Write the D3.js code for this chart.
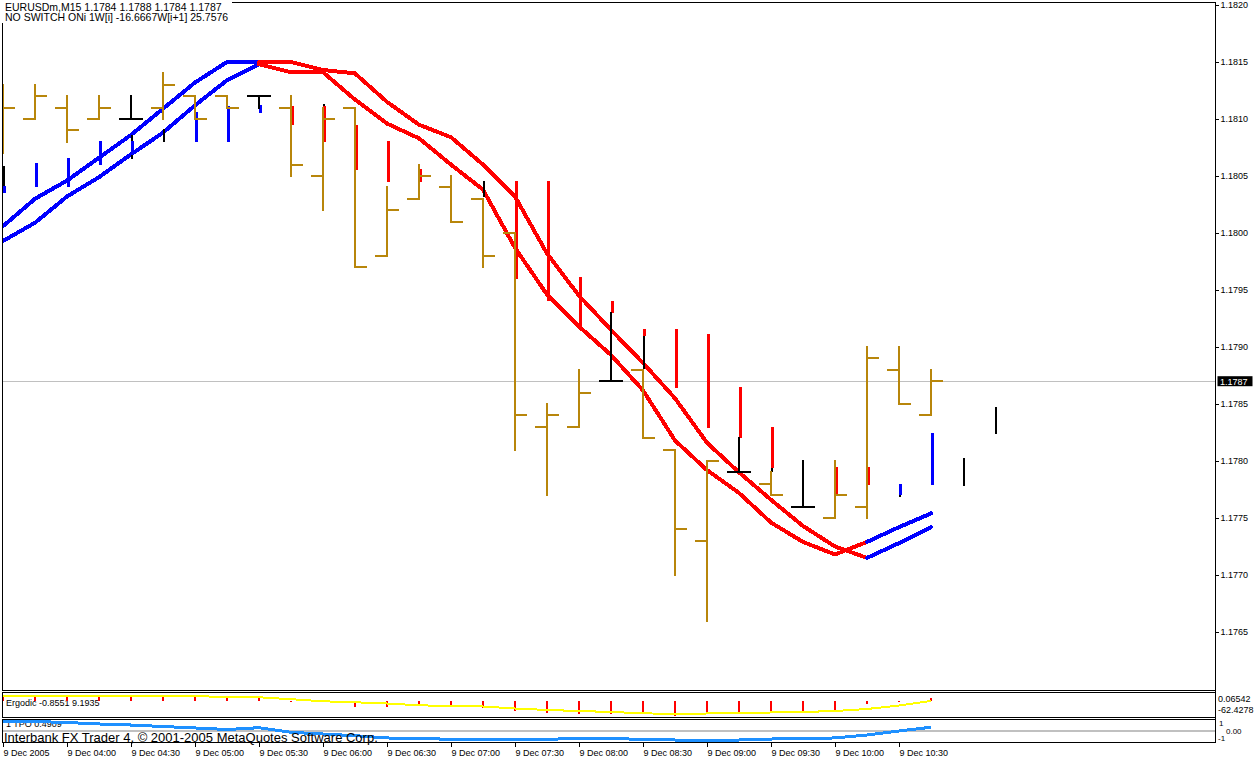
<!DOCTYPE html>
<html><head><meta charset="utf-8">
<script src="https://cdn.jsdelivr.net/npm/d3@7/dist/d3.min.js"></script>
<style>
body{margin:0;background:#fff;}
svg{display:block;}
text{font-family:"Liberation Sans",Arial,sans-serif;}
</style>
</head><body>
<svg id="c" width="1255" height="760"></svg>
<script>
// ---------------- DATA ----------------
const symbolTitle = "EURUSDm,M15  1.1784 1.1788 1.1784 1.1787";
const switchTitle = "NO SWITCH ONi 1W[i] -16.6667W[i+1] 25.7576";
const ergodicTitle = "Ergodic -0.8551 9.1935";
const tpoTitle = "1 TPO 0.4909";
const watermark = "Interbank FX Trader 4, \u00A9 2001-2005 MetaQuotes Software Corp.";

const timeLabels = ["9 Dec 2005","9 Dec 04:00","9 Dec 04:30","9 Dec 05:00","9 Dec 05:30","9 Dec 06:00","9 Dec 06:30","9 Dec 07:00","9 Dec 07:30","9 Dec 08:00","9 Dec 08:30","9 Dec 09:00","9 Dec 09:30","9 Dec 10:00","9 Dec 10:30"];
const priceTicks = [1.1765,1.1770,1.1775,1.1780,1.1785,1.1790,1.1795,1.1800,1.1805,1.1810,1.1815,1.1820];

// OHLC bars (M15), bar 0 = 03:30
const barOpen  = [1.1809,1.1810,1.1811,1.1810,1.1810,1.1811,1.1812,1.1812,1.1812,1.1811,1.1805,1.1811,1.1798,1.1803,1.1804,1.1803,1.1800,1.1783,1.1783,1.1787,1.1788,1.1781,1.1773,1.1779,1.1778,1.1776,1.1775,1.1776,1.1788,1.1784];
const barHigh  = [1.1813,1.1813,1.1812,1.1812,1.1812,1.1814,1.1812,1.1812,1.1812,1.1812,1.1811,1.1811,1.1804,1.1806,1.1805,1.1803,1.1800,1.1785,1.1788,1.1793,1.1788,1.1781,1.1780,1.1782,1.1779,1.1780,1.1780,1.1790,1.1790,1.1788];
const barLow   = [1.1807,1.1810,1.1808,1.1810,1.1810,1.1810,1.1810,1.1811,1.1811,1.1805,1.1802,1.1797,1.1798,1.1803,1.1801,1.1797,1.1781,1.1777,1.1783,1.1787,1.1782,1.1770,1.1766,1.1779,1.1777,1.1776,1.1775,1.1775,1.1785,1.1784];
const barClose = [1.1811,1.1812,1.1809,1.1811,1.1810,1.1813,1.1810,1.1811,1.1812,1.1806,1.1810,1.1797,1.1802,1.1805,1.1801,1.1798,1.1784,1.1784,1.1786,1.1787,1.1782,1.1774,1.1780,1.1779,1.1777,1.1776,1.1777,1.1789,1.1785,1.1787];

// Switch indicator histogram (thin neutral part and thick coloured part), 32 bars
const wickLo = [1.18041,null,null,null,1.18065,1.18080,null,null,null,null,1.18111,null,null,null,null,1.18032,null,null,null,null,1.17881,null,null,null,1.17790,null,null,null,1.17768,null,1.17778,1.17824];
const wickHi = [1.18059,null,null,null,1.18086,1.18091,null,null,null,null,1.18113,null,null,null,null,1.18046,null,null,null,null,1.17910,null,null,null,1.17794,null,null,null,1.17770,null,1.17803,1.17847];
const bodyLo = [1.18035,1.18040,1.18040,1.18060,1.18068,null,1.18080,1.18080,1.18105,1.18095,1.18080,1.18055,1.18045,1.18045,null,null,1.17960,1.17940,1.17918,1.17930,1.17910,1.17864,1.17829,1.17820,1.17794,null,1.17770,1.17779,1.17770,1.17779,null,null];
const bodyHi = [1.18041,1.18061,1.18066,1.18081,1.18081,null,1.18106,1.18111,1.18112,1.18111,1.18111,1.18095,1.18081,1.18056,null,null,1.18046,1.18046,1.17961,1.17940,1.17916,1.17916,1.17911,1.17865,1.17830,null,1.17795,1.17795,1.17780,1.17825,null,null];
const trend  = ["up","up","up","up","up","up","up","up","up","down","down","down","down","down","down","down","down","down","down","down","down","down","down","down","down","down","down","down","up","up"];

// Two band lines
const lineA = [1.18006,1.18030,1.18046,1.18066,1.18086,1.18109,1.18132,1.18150,1.18150,1.18150,1.18143,1.18140,1.18115,1.18095,1.18084,1.18060,1.18032,1.17982,1.17945,1.17915,1.17886,1.17855,1.17816,1.17790,1.17766,1.17743,1.17725,1.17715,1.17728,1.17742];
const lineB = [1.17993,1.18009,1.18032,1.18049,1.18069,1.18088,1.18112,1.18134,1.18148,1.18141,1.18141,1.18117,1.18096,1.18083,1.18060,1.18038,1.17987,1.17946,1.17918,1.17893,1.17862,1.17818,1.17792,1.17772,1.17746,1.17729,1.17718,1.17729,1.17742,1.17754];

// Ergodic sub-window
const ergSignal = [20.4,20.4,20.4,20.4,19.2,19.2,18.0,15.9,13.9,6.1,-2.4,-6.5,-11.4,-18.8,-21.6,-23.7,-31.8,-37.9,-42.0,-46.1,-51.4,-54.3,-52.2,-50.2,-48.1,-46.1,-42.0,-33.9,-19.6,-0.8551];
const ergHist   = [23.3,23.3,19.2,19.2,19.2,23.3,13.9,13.9,13.9,-6.5,-4.1,-26.9,-26.9,-21.6,-25.7,-28.6,-42.0,-51.4,-54.3,-54.3,-54.3,-61.2,-54.3,-49.0,-47.3,-49.0,-44.9,-13.5,-4.1,9.1935];
const ergLabels = ["0.06542","-62.4278"];

// TPO sub-window
const tpo = [1.31,1.31,1.17,0.96,0.81,0.60,0.39,0.17,0.43,-0.23,-0.47,-0.71,-1.04,-1.11,-1.23,-1.23,-1.23,-1.23,-1.11,-1.09,-1.26,-1.33,-1.33,-1.33,-1.19,-1.09,-1.04,-0.61,-0.04,0.4909];
const tpoLabels = ["1","0.00","-1"];

// ---------------- DRAW ----------------
const svg = d3.select("#c");
const GOLD = "#B8860B", BLUE = "#0000FF", RED = "#FF0000";
const xL = 2.5, xR = 1215.5;
const pane = {main:[2.5,690.5], erg:[692.5,717.5], tpo:[719.5,742.5]};

const x = d3.scaleLinear().domain([0,31]).range([3,995]);
const y = d3.scaleLinear().domain([1.1765,1.1820]).range([632,5]);
const ergY = d3.scaleLinear().domain([-62.4278,0]).range([716,700.7]);
const tpoY = d3.scaleLinear().domain([-1,1]).range([737.7,723.7]);

const defs = svg.append("defs");
Object.entries(pane).forEach(([k,[t,b]])=>{
  defs.append("clipPath").attr("id","clip-"+k).append("rect")
    .attr("x",xL).attr("y",t).attr("width",xR-xL).attr("height",b-t);
});

// ---- main pane ----
const gm = svg.append("g").attr("clip-path","url(#clip-main)");
const lastClose = barClose[barClose.length-1];
gm.append("line").attr("x1",xL).attr("x2",xR).attr("y1",Math.round(y(lastClose))+0.5).attr("y2",Math.round(y(lastClose))+0.5)
  .attr("stroke","#C0C0C0").attr("stroke-width",1);

// band lines coloured by trend
function drawBand(vals, w){
  const segs=[];
  for(let i=1;i<vals.length;i++){
    const c = trend[i];
    if(segs.length && segs[segs.length-1].c===c) segs[segs.length-1].end=i;
    else segs.push({c, start:i-1, end:i});
  }
  segs.forEach(s=>{
    const pts = d3.range(s.start, s.end+1).map(i=>[x(i), y(vals[i])]);
    gm.append("path").attr("d", d3.line()(pts)).attr("fill","none")
      .attr("stroke", s.c==="up"?BLUE:RED).attr("stroke-width",w)
      .attr("stroke-linejoin","round").attr("stroke-linecap","round")
      .attr("shape-rendering","crispEdges");
  });
}
drawBand(lineB,4);
drawBand(lineA,4);

// indicator histogram
const gi = gm.append("g").attr("shape-rendering","crispEdges");
wickLo.forEach((lo,i)=>{
  if(lo==null) return;
  gi.append("line").attr("x1",x(i)+1).attr("x2",x(i)+1).attr("y1",y(lo)).attr("y2",y(wickHi[i]))
    .attr("stroke","#000").attr("stroke-width",2);
});
bodyLo.forEach((lo,i)=>{
  if(lo==null) return;
  gi.append("line").attr("x1",x(i)+1).attr("x2",x(i)+1).attr("y1",y(lo)).attr("y2",y(bodyHi[i]))
    .attr("stroke", trend[i]==="up"?BLUE:RED).attr("stroke-width",3);
});

// OHLC bars
const gb = gm.append("g").attr("shape-rendering","crispEdges");
barOpen.forEach((o,i)=>{
  const doji = Math.abs(o-barClose[i])<1e-9;
  const xi = x(i);
  const d = `M${xi},${y(barHigh[i])-1}V${y(barLow[i])+1}M${xi-12},${y(o)}H${xi}M${xi},${y(barClose[i])}H${xi+12}`;
  gb.append("path").attr("d",d).attr("fill","none").attr("stroke",doji?"#000":GOLD).attr("stroke-width",2);
});

// ---- Ergodic pane ----
const ge = svg.append("g").attr("clip-path","url(#clip-erg)");
ge.append("text").attr("x",6).attr("y",706).attr("font-size",9).text(ergodicTitle);
ge.append("g").attr("shape-rendering","crispEdges").selectAll("line").data(ergHist).join("line")
  .attr("x1",(d,i)=>x(i)).attr("x2",(d,i)=>x(i)).attr("y1",ergY(0)).attr("y2",d=>ergY(d))
  .attr("stroke",RED).attr("stroke-width",2);
ge.append("path").attr("d",d3.line().x((d,i)=>x(i)).y(d=>ergY(d))(ergSignal))
  .attr("fill","none").attr("stroke","#FFFF00").attr("stroke-width",2).attr("shape-rendering","crispEdges");

// ---- TPO pane ----
const gt = svg.append("g").attr("clip-path","url(#clip-tpo)");
gt.append("text").attr("x",6).attr("y",727).attr("font-size",9).text(tpoTitle);
gt.append("line").attr("x1",xL).attr("x2",xR).attr("y1",tpoY(0)).attr("y2",tpoY(0))
  .attr("stroke","#C0C0C0").attr("stroke-width",2).attr("shape-rendering","crispEdges");
gt.append("path").attr("d",d3.line().x((d,i)=>x(i)).y(d=>tpoY(d))(tpo))
  .attr("fill","none").attr("stroke","#1E90FF").attr("stroke-width",3).attr("shape-rendering","crispEdges");

// ---- frames ----
Object.values(pane).forEach(([t,b])=>{
  svg.append("rect").attr("x",xL).attr("y",t).attr("width",xR-xL).attr("height",b-t)
    .attr("fill","none").attr("stroke","#000").attr("stroke-width",1).attr("shape-rendering","crispEdges");
});

// header text with white background
svg.append("rect").attr("x",0).attr("y",0).attr("width",232).attr("height",23).attr("fill","#fff");
svg.append("text").attr("x",5).attr("y",11).attr("font-size",10.5).text(symbolTitle);
svg.append("text").attr("x",5).attr("y",21).attr("font-size",10.5).text(switchTitle);

// ---- price axis ----
const ax = svg.append("g").attr("transform",`translate(${xR},0)`)
  .call(d3.axisRight(y).tickValues(priceTicks).tickSize(3).tickPadding(2).tickFormat(d3.format(".4f")));
ax.select(".domain").remove();
ax.selectAll("text").attr("font-family","'Liberation Sans',Arial,sans-serif").attr("font-size",9).attr("fill","#000");
ax.selectAll("line").attr("stroke","#000").attr("shape-rendering","crispEdges");

// current price marker
const cy = y(lastClose);
svg.append("rect").attr("x",1217.5).attr("y",cy-5).attr("width",35).attr("height",10).attr("fill","#000");
svg.append("text").attr("x",1220).attr("y",cy+3.5).attr("font-size",9).attr("fill","#fff").text(d3.format(".4f")(lastClose));

// sub-window scale labels
svg.append("text").attr("x",1218).attr("y",701.5).attr("font-size",9).text(ergLabels[0]);
svg.append("text").attr("x",1218).attr("y",713).attr("font-size",9).text(ergLabels[1]);
svg.append("text").attr("x",1219).attr("y",726).attr("font-size",8).text(tpoLabels[0]);
svg.append("text").attr("x",1226).attr("y",733.5).attr("font-size",8).text(tpoLabels[1]);
svg.append("text").attr("x",1218).attr("y",741).attr("font-size",8).text(tpoLabels[2]);

// ---- time axis ----
const tx = svg.append("g").attr("transform",`translate(0,${pane.tpo[1]})`)
  .call(d3.axisBottom(x).tickValues(d3.range(0,30,2)).tickSize(4).tickPadding(3).tickFormat(i=>timeLabels[i/2]));
tx.select(".domain").remove();
tx.selectAll("text").attr("text-anchor","start").attr("font-family","'Liberation Sans',Arial,sans-serif").attr("font-size",9).attr("fill","#000");
tx.selectAll("line").attr("stroke","#000").attr("shape-rendering","crispEdges");

// axis vertical line
svg.append("line").attr("x1",xR).attr("x2",xR).attr("y1",pane.main[0]).attr("y2",pane.tpo[1])
  .attr("stroke","#000").attr("shape-rendering","crispEdges");

// watermark
svg.append("text").attr("x",4).attr("y",741.5).attr("font-size",13).attr("fill","#000").text(watermark);
</script>
</body></html>
